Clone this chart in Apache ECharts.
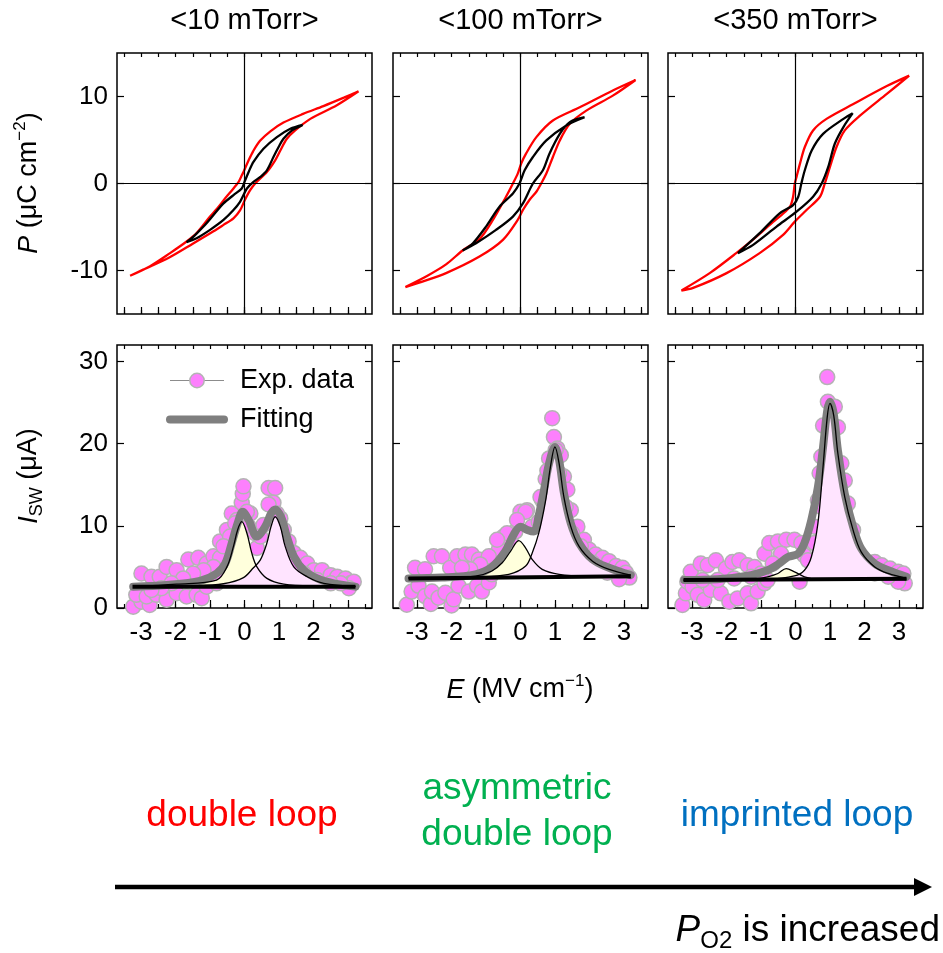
<!DOCTYPE html>
<html>
<head>
<meta charset="utf-8">
<script src="https://cdn.jsdelivr.net/npm/echarts@6/dist/echarts.min.js"></script>
<style>
  html, body { margin: 0; padding: 0; background: #fff; }
  #main { width: 943px; height: 953px; }
</style>
</head>
<body>
<div id="main"></div>
<script>
// ---- axis ticks and labels ----
const eTicks = [-3, -2, -1, 0, 1, 2, 3];
const eHalfTicks = [-3.5, -3, -2.5, -2, -1.5, -1, -0.5, 0, 0.5, 1, 1.5, 2, 2.5, 3, 3.5];
const pTicks = [-10, 0, 10];
const iTicks = [0, 10, 20, 30];
const panelTitles = ['<10 mTorr>', '<100 mTorr>', '<350 mTorr>'];

// ---- P-E hysteresis loops [E (MV/cm), P (uC/cm2)] ----
const loopOuter10 = [[3.31,10.6],[2.9,9.9],[2.29,8.9],[1.7,8.0],[1.13,7.0],[0.75,6.0],[0.45,4.9],[0.25,3.7],[0.12,2.67],[-0.03,1.33],[-0.1,0.76],[-0.17,0.19],[-0.32,-0.57],[-0.56,-1.7],[-0.8,-2.9],[-1.0,-3.8],[-1.39,-5.7],[-1.68,-6.67],[-2.16,-8.0],[-2.74,-9.5],[-3.32,-10.6],[-2.94,-9.9],[-2.21,-8.57],[-1.49,-6.9],[-0.9,-5.5],[-0.61,-4.76],[-0.32,-4.0],[-0.13,-3.1],[0.01,-1.9],[0.16,-0.8],[0.31,0.0],[0.65,1.33],[0.89,2.67],[1.04,3.8],[1.23,5.14],[1.47,6.1],[1.91,7.43],[2.68,9.0],[3.31,10.6]];
const loopInner10 = [[1.69,6.74],[1.33,6.29],[0.94,5.33],[0.55,4.0],[0.26,2.48],[0.12,1.33],[0.0,0.19],[-0.08,-0.57],[-0.32,-1.33],[-0.61,-2.29],[-0.9,-3.62],[-1.19,-4.95],[-1.48,-6.1],[-1.68,-6.74],[-1.39,-6.29],[-1.0,-5.33],[-0.61,-4.19],[-0.32,-3.05],[-0.13,-2.1],[-0.03,-1.33],[0.07,-0.57],[0.26,0.19],[0.46,0.76],[0.65,1.52],[0.84,3.05],[0.99,4.19],[1.13,5.14],[1.38,6.1],[1.69,6.74]];
const loopOuter100 = [[3.34,11.9],[2.68,10.7],[1.72,8.76],[0.94,7.24],[0.46,5.33],[0.16,3.43],[0.02,2.29],[-0.08,1.14],[-0.22,0],[-0.42,-1.52],[-0.8,-4.19],[-1.19,-6.4],[-1.68,-7.7],[-2.16,-9.3],[-2.7,-10.6],[-3.34,-11.9],[-2.94,-11.4],[-2.16,-10.3],[-1.19,-8.4],[-0.51,-6.48],[-0.08,-4.19],[0.07,-3.05],[0.26,-1.9],[0.46,-0.95],[0.6,0],[0.75,1.14],[0.94,3.05],[1.14,4.95],[1.43,6.86],[1.91,8.38],[2.68,10.1],[3.34,11.9]];
const loopInner100 = [[1.86,7.62],[1.33,6.67],[0.75,4.95],[0.36,3.05],[0.12,1.52],[-0.03,0],[-0.22,-1.14],[-0.61,-2.67],[-1.0,-4.95],[-1.38,-6.86],[-1.68,-7.7],[-1.29,-6.86],[-0.71,-5.33],[-0.22,-3.8],[0.07,-2.29],[0.36,0],[0.65,1.52],[0.84,3.43],[1.14,5.71],[1.43,7.05],[1.86,7.62]];
const loopOuter350 = [[3.3,12.4],[2.65,11.2],[1.68,9.14],[0.9,7.43],[0.51,6.1],[0.27,4.19],[0.13,2.29],[0.03,0.76],[-0.02,0],[-0.07,-1.52],[-0.16,-2.67],[-0.4,-3.6],[-0.65,-4.4],[-1.13,-6.1],[-1.72,-8.0],[-2.49,-10.3],[-3.31,-12.3],[-2.97,-12.0],[-2.0,-10.3],[-1.04,-8.0],[-0.36,-5.9],[-0.02,-4.38],[0.32,-3.05],[0.71,-1.52],[0.85,0],[1.0,1.9],[1.19,4.19],[1.43,6.1],[1.87,7.8],[2.65,10.3],[3.3,12.4]];
const loopInner350 = [[1.66,8.08],[1.39,7.43],[0.8,5.71],[0.47,3.8],[0.27,1.52],[0.17,0],[0.08,-1.52],[-0.07,-2.48],[-0.46,-3.43],[-1.04,-5.71],[-1.67,-8.0],[-1.23,-7.05],[-0.55,-4.95],[0.03,-3.24],[0.51,-1.52],[0.76,0],[0.95,1.9],[1.14,4.57],[1.39,6.48],[1.66,8.08]];

// ---- switching current [E (MV/cm), I_SW (uA)] ----
const exp10 = [[-3.23,0.16],[-2.99,0.77],[-2.75,0.37],[-3.14,1.6],[-2.84,1.4],[-2.55,1.6],[-2.26,1.0],[-1.97,1.8],[-1.68,1.4],[-1.39,1.6],[-1.24,1.2],[-1.1,2.6],[-0.81,3.0],[-0.61,3.8],[-2.99,4.2],[-2.7,3.8],[-2.46,3.8],[-2.26,5.0],[-1.97,4.6],[-1.63,5.9],[-1.34,6.1],[-1.1,5.4],[-0.9,6.3],[-0.71,6.1],[-0.71,8.1],[-0.51,9.5],[-0.37,11.5],[-0.22,10.7],[-0.08,12.8],[-0.05,13.9],[-0.03,14.8],[0.12,9.9],[0.31,9.1],[0.36,7.3],[0.55,10.1],[0.7,14.6],[0.89,14.6],[0.84,12.8],[1.04,10.9],[1.14,9.5],[1.28,8.1],[1.43,6.7],[1.62,6.1],[1.82,5.4],[2.01,4.6],[2.25,4.6],[2.5,4.0],[2.69,3.8],[2.93,3.6],[3.08,3.0],[3.17,3.2],[3.03,2.4],[2.79,3.0],[2.5,3.0],[2.11,3.4],[1.72,4.2],[1.43,5.4],[1.23,7.1],[1.09,8.7],[0.94,11.5],[0.7,12.6],[0.46,8.7],[0.17,11.5],[0.07,11.7],[-0.27,10.3],[-0.42,8.7],[-0.61,7.5],[-0.9,5.0],[-1.19,4.6],[-1.49,4.2],[-1.78,3.6],[-2.12,3.0],[-2.41,2.4],[-2.7,2.2]];
const fit10 = [[-3.23,2.6],[-2.26,2.8],[-1.29,3.3],[-0.81,4.2],[-0.56,5.4],[-0.37,7.9],[-0.2,10.3],[-0.05,11.7],[0.12,10.7],[0.36,8.7],[0.6,9.9],[0.77,11.5],[0.89,12.0],[1.06,11.1],[1.23,8.7],[1.43,6.3],[1.72,4.6],[2.11,3.6],[2.59,3.0],[3.22,2.6]];
const peakA10 = [[-3.23,2.6],[-1.97,2.9],[-0.81,3.4],[-0.51,5.0],[-0.32,7.5],[-0.2,9.5],[-0.08,10.5],[0.07,9.1],[0.21,6.7],[0.36,5.0],[0.65,3.6],[1.14,2.9],[2.1,2.65],[3.22,2.6]];
const peakB10 = [[-3.23,2.6],[-1.5,2.7],[-0.61,2.95],[-0.03,3.7],[0.26,4.9],[0.46,5.85],[0.65,7.9],[0.77,9.9],[0.89,11.1],[1.04,9.9],[1.18,7.5],[1.43,5.0],[1.82,3.8],[2.3,3.0],[3.22,2.62]];
const base10 = [[-3.25,2.6],[3.22,2.6]];

const exp100 = [[-3.3,0.4],[-3.16,2.0],[-2.96,2.7],[-2.77,1.45],[-2.6,0.5],[-2.57,2.0],[-2.38,1.25],[-2.18,1.85],[-2.0,0.3],[-1.94,1.05],[-1.8,2.7],[-1.5,2.0],[-1.26,2.7],[-1.12,2.0],[-0.92,3.1],[-0.83,4.1],[-3.06,4.9],[-2.77,4.7],[-2.52,6.3],[-2.28,6.3],[-2.04,4.9],[-1.84,6.3],[-1.6,6.5],[-1.41,6.5],[-1.21,5.9],[-1.02,5.5],[-0.83,6.3],[-0.63,7.1],[-0.49,8.7],[-0.29,8.3],[-0.15,9.3],[0.0,11.7],[0.19,11.9],[0.34,9.9],[0.53,10.5],[0.63,13.1],[0.73,15.7],[0.83,18.2],[0.92,23.1],[0.97,20.8],[1.07,19.4],[1.17,18.6],[1.26,16.0],[1.36,14.4],[1.46,11.9],[1.65,9.9],[1.84,8.3],[1.99,7.1],[2.18,6.5],[2.38,6.1],[2.57,5.7],[2.77,5.1],[2.96,4.9],[3.06,4.3],[3.16,3.7],[2.86,3.5],[2.52,4.3],[2.09,5.5],[1.75,7.5],[1.5,9.1],[1.31,12.3],[1.12,16.4],[1.02,19.2],[0.78,16.7],[0.58,13.5],[0.15,11.7],[-0.1,10.7],[-0.39,9.1],[-0.68,8.3],[-0.92,6.3],[-1.17,5.3],[-1.46,4.7],[-1.7,4.9]];
const fit100 = [[-3.25,3.6],[-2.28,3.7],[-1.31,4.1],[-0.83,5.0],[-0.44,6.9],[-0.19,9.0],[0.0,9.9],[0.2,9.5],[0.39,9.3],[0.53,11.3],[0.68,14.3],[0.83,17.6],[1.0,19.6],[1.12,18.0],[1.26,14.0],[1.46,10.3],[1.7,7.9],[2.09,5.9],[2.57,4.9],[3.2,4.0]];
const peakA100 = [[-3.25,3.65],[-2.28,3.7],[-1.31,3.87],[-0.83,4.5],[-0.53,5.5],[-0.29,6.9],[-0.05,8.2],[0.15,7.3],[0.34,5.9],[0.63,4.7],[1.12,4.1],[2.09,3.8],[3.2,3.7]];
const peakB100 = [[-3.25,3.65],[-1.31,3.8],[-0.34,4.1],[0.15,5.1],[0.34,6.7],[0.53,9.1],[0.73,13.1],[0.87,17.2],[1.0,19.6],[1.12,17.6],[1.26,13.5],[1.46,9.9],[1.7,7.5],[2.09,5.7],[2.57,4.7],[3.2,4.0]];
const base100 = [[-3.25,3.6],[3.2,3.85]];

const exp350 = [[-3.28,0.36],[-3.18,1.78],[-3.14,3.2],[-2.99,2.6],[-2.84,1.6],[-2.65,0.97],[-2.46,2.2],[-2.17,1.78],[-1.92,0.77],[-1.68,1.17],[-1.39,1.78],[-1.29,0.57],[-1.1,2.0],[-0.9,3.0],[-0.81,3.4],[-3.04,4.4],[-2.75,5.4],[-2.55,5.2],[-2.31,5.8],[-2.02,4.8],[-1.83,5.6],[-1.63,5.8],[-1.39,5.2],[-1.19,5.0],[-0.9,6.6],[-0.76,7.9],[-0.51,8.1],[-0.27,8.3],[-0.03,8.3],[0.17,7.9],[0.26,6.4],[0.36,5.8],[0.12,3.2],[0.55,9.9],[0.65,13.1],[0.7,16.4],[0.75,18.4],[0.8,22.2],[0.92,28.1],[0.94,25.1],[1.14,24.5],[1.23,22.0],[1.33,17.6],[1.43,15.5],[1.52,12.7],[1.67,9.5],[1.91,5.8],[2.11,5.4],[2.3,5.6],[2.5,5.2],[2.74,4.8],[2.98,4.4],[3.13,4.2],[3.17,3.0],[2.98,3.2],[2.69,3.8],[2.3,4.2],[1.91,4.6],[1.72,5.8],[1.57,9.1],[1.43,11.9],[1.28,14.7],[0.84,13.9],[0.75,12.3],[0.55,7.9],[-0.42,6.6],[-0.66,5.4],[-1.0,4.2],[-1.29,3.8],[-1.78,3.6],[-2.26,3.4],[-2.7,3.4]];
const fit350 = [[-3.23,3.4],[-2.26,3.5],[-1.29,4.0],[-0.81,4.6],[-0.51,5.3],[-0.22,6.2],[0.07,6.6],[0.26,7.9],[0.46,10.7],[0.65,14.7],[0.8,19.6],[0.92,24.0],[1.0,25.1],[1.11,23.6],[1.23,19.2],[1.43,13.9],[1.67,9.9],[1.91,7.2],[2.3,5.4],[2.69,4.6],[3.22,3.8]];
const peakA350 = [[-3.25,3.4],[-1.29,3.5],[-0.81,3.8],[-0.51,4.2],[-0.27,4.8],[-0.03,4.4],[0.26,3.8],[0.65,3.5],[1.62,3.45],[3.22,3.45]];
const peakB350 = [[-3.25,3.4],[-0.81,3.5],[-0.03,3.9],[0.26,4.6],[0.46,6.2],[0.65,10.3],[0.8,17.2],[0.92,23.2],[1.0,24.9],[1.11,23.4],[1.23,18.8],[1.43,13.5],[1.67,9.5],[1.91,6.8],[2.3,5.0],[2.69,4.2],[3.22,3.6]];
const base350 = [[-3.25,3.4],[3.22,3.55]];

// ---- layout ----
const FONT = '"Liberation Sans", Arial, Helvetica, sans-serif';
const colLeft = [117, 393, 668];
const colW = 255;
const rowTop = [53, 345];
const rowH = [261, 263];
const E_RANGE = [-3.7, 3.7];

const chart = echarts.init(document.getElementById('main'), null, { renderer: 'canvas' });

const grids = [], xAxes = [], yAxes = [], series = [];

function tickStyle(len, values) {
  return { show: true, inside: true, length: len, customValues: values,
           lineStyle: { color: '#000', width: 1.2 } };
}

// one framed panel with ticks on all four sides; returns axis indices
function addPanel(row, col) {
  const gi = grids.length;
  grids.push({ left: colLeft[col], top: rowTop[row], width: colW, height: rowH[row],
               show: true, borderColor: '#000', borderWidth: 1.5, backgroundColor: 'transparent' });
  const yRange = row === 0 ? [-15, 15] : [0, 32];
  const yTickVals = row === 0 ? pTicks : iTicks;
  const xi = xAxes.length, yi = yAxes.length;
  const xBase = { gridIndex: gi, type: 'value', min: E_RANGE[0], max: E_RANGE[1],
                  axisLine: { show: false, onZero: false }, splitLine: { show: false } };
  // bottom: major ticks (+ labels on the lower row)
  xAxes.push(Object.assign({}, xBase, {
    position: 'bottom',
    axisTick: tickStyle(row === 0 ? 7 : 8, row === 0 ? eHalfTicks : eTicks),
    axisLabel: { show: row === 1, customValues: eTicks, fontSize: 26, color: '#000',
                 fontFamily: FONT, margin: 12, formatter: v => String(v) }
  }));
  // bottom: half-step ticks
  xAxes.push(Object.assign({}, xBase, {
    position: 'bottom', axisTick: tickStyle(4, eHalfTicks), axisLabel: { show: false }
  }));
  // top mirror ticks
  xAxes.push(Object.assign({}, xBase, {
    position: 'top', axisTick: tickStyle(4, eHalfTicks), axisLabel: { show: false }
  }));
  const yBase = { gridIndex: gi, type: 'value', min: yRange[0], max: yRange[1],
                  axisLine: { show: false, onZero: false }, splitLine: { show: false } };
  yAxes.push(Object.assign({}, yBase, {
    position: 'left', axisTick: tickStyle(7, yTickVals),
    axisLabel: { show: col === 0, customValues: yTickVals, fontSize: 26, color: '#000',
                 fontFamily: FONT, margin: 9, formatter: v => String(v) }
  }));
  yAxes.push(Object.assign({}, yBase, {
    position: 'right', axisTick: tickStyle(7, yTickVals), axisLabel: { show: false }
  }));
  return { xi, yi };
}

// upper row: P-E loops
const loops = [[loopOuter10, loopInner10], [loopOuter100, loopInner100], [loopOuter350, loopInner350]];
loops.forEach((pair, col) => {
  const ax = addPanel(0, col);
  series.push({
    type: 'line', name: 'outer' + col, xAxisIndex: ax.xi, yAxisIndex: ax.yi,
    data: pair[0], showSymbol: false, symbol: 'none', smooth: 0.3, z: 3,
    lineStyle: { color: '#ff0000', width: 2.3 },
    markLine: { silent: true, symbol: 'none', label: { show: false },
                lineStyle: { color: '#000', width: 1.2, type: 'solid' },
                data: [{ xAxis: 0 }, { yAxis: 0 }] }
  });
  series.push({
    type: 'line', name: 'inner' + col, xAxisIndex: ax.xi, yAxisIndex: ax.yi,
    data: pair[1], showSymbol: false, symbol: 'none', smooth: 0.3, z: 4,
    lineStyle: { color: '#000', width: 2.3 }
  });
});

// lower row: switching current with fitted peaks
const currents = [
  { exp: exp10, fit: fit10, a: peakA10, b: peakB10, base: base10 },
  { exp: exp100, fit: fit100, a: peakA100, b: peakB100, base: base100 },
  { exp: exp350, fit: fit350, a: peakA350, b: peakB350, base: base350 }
];
currents.forEach((c, col) => {
  const ax = addPanel(1, col);
  const common = { xAxisIndex: ax.xi, yAxisIndex: ax.yi, animation: false };
  const origin = c.base[0][1];
  series.push(Object.assign({}, common, {
    type: 'line', name: 'Exp. data', data: c.exp, z: 2,
    symbol: 'circle', symbolSize: 15, showSymbol: true,
    lineStyle: { width: 0, color: '#8c8c8c' },
    itemStyle: { color: '#fd80fd', borderColor: '#b4b4b4', borderWidth: 1.5 }
  }));
  [[c.a, '#ffffdc'], [c.b, '#ffe4ff']].forEach(([pk, fill], k) => {
    series.push(Object.assign({}, common, {
      type: 'line', name: 'area' + col + k, data: pk, showSymbol: false, symbol: 'none', smooth: 0.35, z: 3,
      lineStyle: { width: 0 }, areaStyle: { color: fill, opacity: 1, origin: origin }
    }));
  });
  series.push(Object.assign({}, common, {
    type: 'line', name: 'Fitting', data: c.fit, showSymbol: false, symbol: 'none', smooth: 0.35, z: 4,
    itemStyle: { color: '#7f7f7f' },
    lineStyle: { color: '#7f7f7f', width: 8, cap: 'round', join: 'round' }
  }));
  [c.a, c.b].forEach((pk, k) => {
    series.push(Object.assign({}, common, {
      type: 'line', name: 'edge' + col + k, data: pk, showSymbol: false, symbol: 'none', smooth: 0.35, z: 5,
      lineStyle: { color: '#000', width: 1.3 }
    }));
  });
  series.push(Object.assign({}, common, {
    type: 'line', name: 'base' + col, data: c.base, showSymbol: false, symbol: 'none', z: 5,
    lineStyle: { color: '#000', width: 4 }
  }));
});

const txt = (size, extra) => Object.assign({ fontSize: size, fontFamily: FONT, fill: '#000' }, extra || {});

const graphic = [];
panelTitles.forEach((t, k) => {
  graphic.push({ type: 'text', x: colLeft[k] + colW / 2, y: 21,
                 style: txt(29, { text: t, align: 'center', verticalAlign: 'middle' }) });
});
graphic.push({
  type: 'text', x: 29, y: 183, rotation: Math.PI / 2,
  style: txt(27, { text: '{i|P} (μC cm{sup|−2})', align: 'center', verticalAlign: 'middle',
    rich: { i: { fontStyle: 'italic', fontSize: 27, fontFamily: FONT, lineHeight: 34 },
            sup: { fontSize: 17, fontFamily: FONT, lineHeight: 17, verticalAlign: 'top' } } })
});
graphic.push({
  type: 'text', x: 29, y: 476, rotation: Math.PI / 2,
  style: txt(27, { text: '{i|I}{sub|SW} (μA)', align: 'center', verticalAlign: 'middle',
    rich: { i: { fontStyle: 'italic', fontSize: 27, fontFamily: FONT, lineHeight: 34 },
            sub: { fontSize: 18, fontFamily: FONT, lineHeight: 18, verticalAlign: 'bottom' } } })
});
graphic.push({
  type: 'text', x: 520, y: 690,
  style: txt(27, { text: '{i|E} (MV cm{sup|−1})', align: 'center', verticalAlign: 'middle',
    rich: { i: { fontStyle: 'italic', fontSize: 27, fontFamily: FONT, lineHeight: 34 },
            sup: { fontSize: 17, fontFamily: FONT, lineHeight: 17, verticalAlign: 'top' } } })
});
graphic.push({ type: 'text', x: 242, y: 816,
  style: txt(37, { text: 'double loop', fill: '#ff0000', align: 'center', verticalAlign: 'middle' }) });
graphic.push({ type: 'text', x: 517, y: 812,
  style: txt(37, { text: 'asymmetric\ndouble loop', fill: '#00b050', align: 'center', verticalAlign: 'middle', lineHeight: 46 }) });
graphic.push({ type: 'text', x: 797, y: 816,
  style: txt(37, { text: 'imprinted loop', fill: '#0070c0', align: 'center', verticalAlign: 'middle' }) });
// pressure arrow
graphic.push({ type: 'line', shape: { x1: 115, y1: 887, x2: 918, y2: 887 },
               style: { stroke: '#000', lineWidth: 4.5 } });
graphic.push({ type: 'polygon', shape: { points: [[914, 878], [932, 887], [914, 896]] },
               style: { fill: '#000' } });
graphic.push({
  type: 'text', x: 940, y: 931,
  style: txt(37, { text: '{i|P}{sub|O2} is increased', align: 'right', verticalAlign: 'middle',
    rich: { i: { fontStyle: 'italic', fontSize: 37, fontFamily: FONT, lineHeight: 44 },
            sub: { fontSize: 24, fontFamily: FONT, lineHeight: 24, verticalAlign: 'bottom' } } })
});

chart.setOption({
  animation: false,
  backgroundColor: '#fff',
  grid: grids,
  xAxis: xAxes,
  yAxis: yAxes,
  legend: {
    left: 161, top: 362, orient: 'vertical', itemWidth: 54, itemHeight: 18, itemGap: 12,
    selectedMode: false,
    textStyle: { fontSize: 27, fontFamily: FONT, color: '#000', padding: [0, 0, 0, 11] },
    data: [
      { name: 'Exp. data', lineStyle: { width: 1.2, color: '#8c8c8c', opacity: 1 },
        itemStyle: { color: '#fd80fd', borderColor: '#b4b4b4', borderWidth: 1.5 } },
      { name: 'Fitting', lineStyle: { width: 8, color: '#7f7f7f', cap: 'round' },
        itemStyle: { opacity: 0 } }
    ]
  },
  graphic: graphic,
  series: series
});
</script>
</body>
</html>
